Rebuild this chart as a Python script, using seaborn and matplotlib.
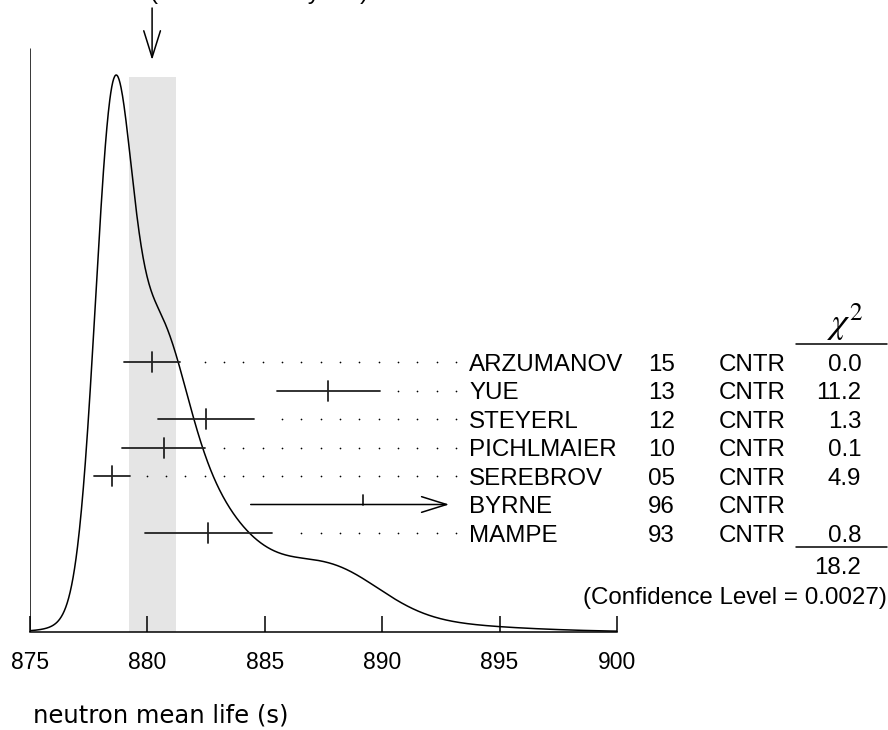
import numpy as np
import matplotlib.pyplot as plt
import seaborn as sns

# measurements shown in the ideogram (PDG style neutron mean life)
names = ["ARZUMANOV", "YUE", "STEYERL", "PICHLMAIER", "SEREBROV", "BYRNE", "MAMPE"]
years = ["15", "13", "12", "10", "05", "96", "93"]
techn = ["CNTR", "CNTR", "CNTR", "CNTR", "CNTR", "CNTR", "CNTR"]
values = [880.2, 887.7, 882.5, 880.7, 878.5, 889.2, 882.6]
errors = [1.2, 2.2, 2.05, 1.77, 0.76, 4.8, 2.7]
chi2 = ["0.0", "11.2", "1.3", "0.1", "4.9", "", "0.8"]
used = [True, True, True, True, True, False, True]
chi2_total = "18.2"
conf_level = "0.0027"
avg_value = 880.2
avg_error = 1.0
scale_factor = 1.9
xticks = [875, 880, 885, 890, 895, 900]

sns.set_theme(style="white")
plt.rcParams["font.family"] = ["Liberation Sans", "DejaVu Sans"]
plt.rcParams["mathtext.fontset"] = "stix"
plt.rcParams["text.color"] = "black"

fig = plt.figure(figsize=(8.88, 7.30), dpi=100)
# y units of the axes are pixels above the x axis line
ax = fig.add_axes([30 / 888, 98 / 730, 587 / 888, 632 / 730])
ax.set_xlim(875, 900)
ax.set_ylim(0, 632)

for side in ["top", "right", "left"]:
    ax.spines[side].set_visible(False)
ax.spines["bottom"].set_color("black")
ax.spines["bottom"].set_linewidth(1.1)
ax.set_yticks([])
ax.set_xticks(xticks)
ax.set_xticklabels([str(t) for t in xticks])
ax.tick_params(axis="x", bottom=True, direction="in", length=11.5, width=1.1,
               color="black", labelsize=16.5, pad=14, labelcolor="black")

# weighted average band
ax.fill_between([avg_value - avg_error, avg_value + avg_error], 0, 555,
                color="#e5e5e5", lw=0, zorder=0)

# left frame line
ax.plot([875, 875], [0, 583], color="black", lw=1.1)

# ideogram: gaussians with area proportional to 1/error
grid = np.linspace(875, 900, 1200)
ideo = np.zeros_like(grid)
for v, e in zip(values, errors):
    ideo += np.exp(-0.5 * ((grid - v) / e) ** 2) / e ** 2
ideo = ideo / ideo.max() * 557
sns.lineplot(x=grid, y=ideo, color="black", lw=1.1, ax=ax)

# rows of measurements
dot_grid = 893.14 - 0.823 * np.arange(0, 30)
fs = 17.4
for i in range(len(names)):
    y = 270 - 28.5 * i
    v, e = values[i], errors[i]
    if used[i]:
        ax.plot([v - e, v + e], [y, y], color="#222222", lw=1.3)
        ax.plot([v, v], [y - 10, y + 10], color="#222222", lw=1.3)
        dots = dot_grid[dot_grid > v + e + 0.6]
        ax.scatter(dots, [y] * len(dots), s=1.5, color="black", lw=0)
    else:
        ax.annotate("", xy=(892.85, y), xytext=(v - e, y),
                    arrowprops=dict(arrowstyle="->,head_length=1.5,head_width=0.47",
                                    lw=1.1, color="black", shrinkA=0, shrinkB=0),
                    annotation_clip=False)
        ax.plot([v, v], [y, y + 10], color="#222222", lw=1.3)
    ax.text(893.7, y - 8.7, names[i], fontsize=fs, va="baseline", clip_on=False)
    ax.text(901.33, y - 8.7, years[i], fontsize=fs, va="baseline", clip_on=False)
    ax.text(904.34, y - 8.7, techn[i], fontsize=fs, va="baseline", clip_on=False)
    ax.text(910.4, y - 8.7, chi2[i], fontsize=fs, va="baseline", ha="right", clip_on=False)

# chi2 column header and total
ax.text(910.5, 289, r"$\chi^2$", fontsize=26, ha="right", va="bottom", clip_on=False)
ax.plot([907.62, 911.5], [288, 288], color="black", lw=1.1, clip_on=False)
ax.plot([907.62, 911.5], [85, 85], color="black", lw=1.1, clip_on=False)
ax.text(910.4, 58, chi2_total, fontsize=fs, ha="right", va="baseline", clip_on=False)
ax.text(911.5, 28, "(Confidence Level = " + conf_level + ")", fontsize=fs,
        ha="right", va="baseline", clip_on=False)

# arrow pointing at the weighted average
ax.annotate("", xy=(avg_value, 572), xytext=(avg_value, 624),
            arrowprops=dict(arrowstyle="->,head_length=1.6,head_width=0.5",
                            lw=1.1, color="black", shrinkA=0, shrinkB=0),
            annotation_clip=False)
# caption above the arrow, mostly beyond the top edge as in the reference
fig.text(150 / 888, 1 + 1.5 / 730, "(Error scaled by " + str(scale_factor) + ")",
         fontsize=fs, va="baseline")

fig.text(33 / 888, 8 / 730, "neutron mean life (s)", family="DejaVu Sans",
         fontsize=17.5, va="baseline")

fig.savefig("out.png", dpi=100)
